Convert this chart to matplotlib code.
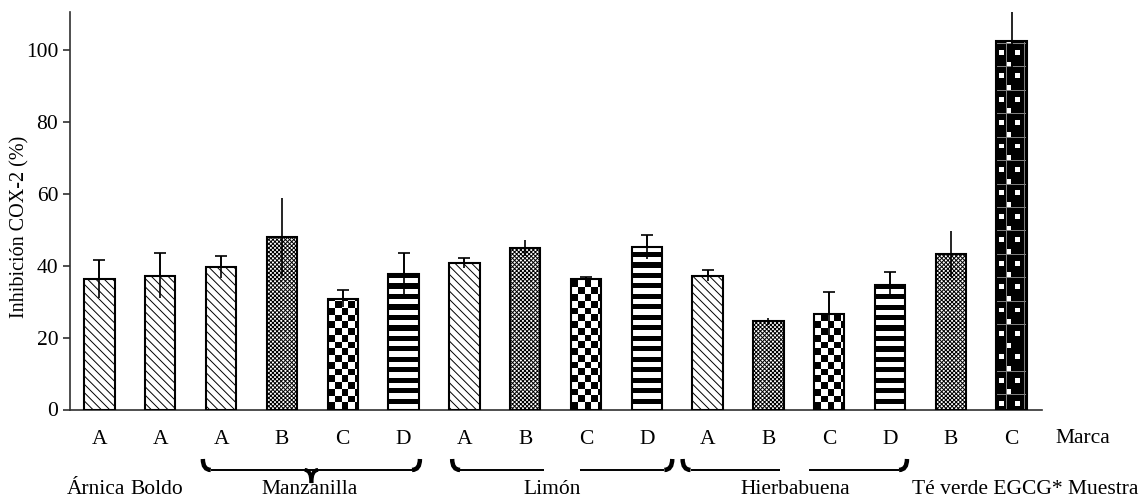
import numpy as np
import matplotlib
matplotlib.use("Agg")
import matplotlib.pyplot as plt
from matplotlib.path import Path
from matplotlib.patches import PathPatch

plt.rcParams['font.family'] = ['Liberation Serif', 'DejaVu Serif']
plt.rcParams['hatch.linewidth'] = 0.7

# data
marcas = ['A', 'A', 'A', 'B', 'C', 'D', 'A', 'B', 'C', 'D', 'A', 'B', 'C', 'D', 'B', 'C']
inhib = [36.3, 37.2, 39.6, 48.0, 30.8, 37.7, 40.6, 44.9, 36.2, 45.1, 37.2, 24.5, 26.6, 34.7, 43.1, 102.4]
err = [5.3, 6.3, 3.0, 10.8, 2.3, 5.8, 1.4, 2.3, 0.6, 3.3, 1.5, 1.0, 6.1, 3.4, 6.4, 8.4]
muestras = ['Árnica', 'Boldo', 'Manzanilla', 'Limón', 'Hierbabuena']
grupos = [[0], [1], [2, 3, 4, 5], [6, 7, 8, 9], [10, 11, 12, 13]]
yticks = [0, 20, 40, 60, 80, 100]

# fill style of each bar
relleno = ['diag', 'diag', 'diag', 'fino', 'cuadros', 'rayas', 'diag', 'fino',
           'cuadros', 'rayas', 'diag', 'fino', 'cuadros', 'rayas', 'fino', 'puntos']
con_tope = [r in ('diag', 'cuadros', 'rayas') for r in relleno]

x = np.arange(len(inhib))
ancho = 0.5
fs = 15.5

fig = plt.figure(figsize=(11.4, 5.04), dpi=100)
ax = fig.add_axes([0.0614, 0.1875, 0.8526, 0.7887])

# tiles for the patterns matplotlib has no hatch for (0 black, 1 white)
cuadros = np.array([[0, 1], [1, 0]])
rayas = np.array([[1], [0]])
puntos = np.zeros((24, 32))
puntos[:, 10] = 0.5
puntos[:, 29] = 0.5
puntos[14, :] = 0.5
puntos[3:8, 3:8] = 1
puntos[3:8, 20:25] = 1
puntos[15:20, 11:16] = 1
mosaicos = {'cuadros': (cuadros, 0.22, 3.74),
            'rayas': (rayas, ancho, 2.9),
            'puntos': (puntos, ancho, 6.5)}


def rellenar(bar, tile, tw, th):
    x0, y0 = bar.get_x(), bar.get_y()
    w, h = bar.get_width(), bar.get_height()
    nx = int(np.ceil(w / tw))
    ny = int(np.ceil(h / th))
    img = np.tile(tile, (ny, nx))
    im = ax.imshow(img, cmap='gray', vmin=0, vmax=1, origin='lower',
                   extent=(x0, x0 + nx * tw, y0, y0 + ny * th),
                   aspect='auto', interpolation='nearest', zorder=2)
    im.set_clip_path(bar)


for i in range(len(inhib)):
    r = relleno[i]
    if r == 'diag':
        b = ax.bar(x[i], inhib[i], ancho, color='white', edgecolor='black',
                   linewidth=1.5, hatch='\\\\\\\\', zorder=3)
    elif r == 'fino':
        b = ax.bar(x[i], inhib[i], ancho, color='white', edgecolor='black',
                   linewidth=1.5, hatch='xxxxxxxx', zorder=3)
    else:
        b = ax.bar(x[i], inhib[i], ancho, color='none', edgecolor='black',
                   linewidth=1.5, zorder=3)
        tile, tw, th = mosaicos[r]
        rellenar(b[0], tile, tw, th)

ax.errorbar(x, inhib, yerr=err, fmt='none', ecolor='black', elinewidth=1.2,
            capsize=0, zorder=4)
xt = x[con_tope]
yt = np.array(inhib)[con_tope]
et = np.array(err)[con_tope]
ax.errorbar(xt, yt, yerr=[np.zeros_like(et), et], fmt='none', ecolor='black',
            elinewidth=1.2, capsize=4, capthick=1.2, zorder=4)

ax.set_xlim(-0.485, 15.5)
ax.set_ylim(0, 110.5)
ax.set_yticks(yticks)
ax.set_xticks(x)
ax.set_xticklabels(marcas)
ax.tick_params(axis='x', length=0, pad=14.5, labelsize=fs)
ax.tick_params(axis='y', length=5, width=1.2, color='#303030', labelsize=fs, pad=3.5)
for s in ['top', 'right']:
    ax.spines[s].set_visible(False)
for s in ['left', 'bottom']:
    ax.spines[s].set_linewidth(1.2)
    ax.spines[s].set_color('#303030')

fig.text(20 / 1140, 1 - 227 / 504, 'Inhibición COX-2 (%)', rotation=90,
         ha='center', va='center', fontsize=14.5)

tr = ax.get_xaxis_transform()
ax.text(16.17, -0.0742, 'Marca', transform=tr, ha='center', va='center',
        fontsize=fs, clip_on=False)

y_fila2 = -0.200
for nombre, g in zip(muestras, grupos):
    ax.text(np.mean(x[g]) - 0.05, y_fila2, nombre, transform=tr, ha='center',
            va='center', fontsize=fs, clip_on=False)
ax.text(13.36, y_fila2, 'Té verde EGCG* Muestra', transform=tr, ha='left',
        va='center', fontsize=fs, clip_on=False)

# braces under the grouped samples
y_linea, y_gancho, y_punta = -0.152, -0.1245, -0.185


def trazo(verts, codes, lw):
    ax.add_patch(PathPatch(Path(verts, codes), fill=False, lw=lw,
                           edgecolor='black', transform=tr, clip_on=False,
                           capstyle='butt'))


def llave(x0, x1, punta=False, hueco=0.0):
    d = 0.13
    c = (x0 + x1) / 2
    Q = [Path.MOVETO, Path.CURVE3, Path.CURVE3]
    trazo([(x0, y_gancho), (x0, y_linea), (x0 + d, y_linea)], Q, 3.2)
    trazo([(x1, y_gancho), (x1, y_linea), (x1 - d, y_linea)], Q, 3.2)
    if hueco > 0:
        trazo([(x0 + d, y_linea), (c - hueco, y_linea)], [Path.MOVETO, Path.LINETO], 1.4)
        trazo([(c + hueco, y_linea), (x1 - d, y_linea)], [Path.MOVETO, Path.LINETO], 1.4)
    else:
        trazo([(x0 + d, y_linea), (x1 - d, y_linea)], [Path.MOVETO, Path.LINETO], 1.4)
    if punta:
        trazo([(c - 0.11, y_linea), (c, y_linea), (c, y_punta)], Q, 2.8)
        trazo([(c + 0.11, y_linea), (c, y_linea), (c, y_punta)], Q, 2.8)


llave(x[2] - 0.3, x[5] + 0.27, punta=True)
llave(x[6] - 0.2, x[9] + 0.42, hueco=0.3)
llave(x[10] - 0.41, x[13] + 0.28, hueco=0.24)

fig.savefig('out.png', dpi=100)
